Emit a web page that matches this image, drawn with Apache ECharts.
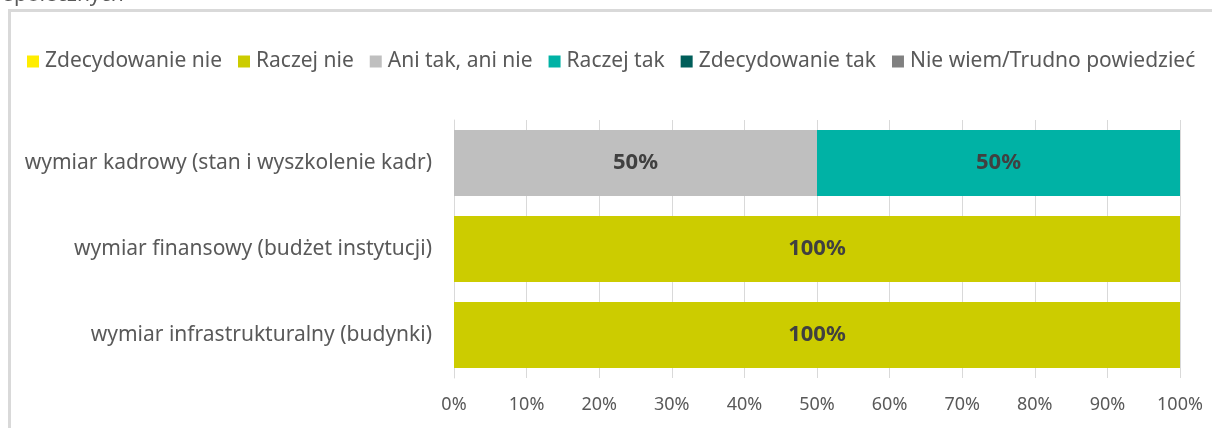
<!DOCTYPE html>
<html>
<head>
<meta charset="utf-8">
<script src="https://cdn.jsdelivr.net/npm/echarts@6/dist/echarts.min.js"></script>
<style>
    html, body { margin: 0; padding: 0; background: #fff; }
    #chart { width: 1212px; height: 428px; }
</style>
</head>
<body>
<div id="chart"></div>
<script>
const categories = [
    'wymiar kadrowy (stan i wyszkolenie kadr)',
    'wymiar finansowy (budżet instytucji)',
    'wymiar infrastrukturalny (budynki)'
]
const seriesNames = ['Zdecydowanie nie', 'Raczej nie', 'Ani tak, ani nie', 'Raczej tak', 'Zdecydowanie tak', 'Nie wiem/Trudno powiedzieć']
const seriesColors = ['#ffed00', '#cccc00', '#bfbfbf', '#00b2a5', '#005e5a', '#808080']
const zdecydowanieNie = [0, 0, 0]
const raczejNie = [0, 100, 100]
const aniTakAniNie = [50, 0, 0]
const raczejTak = [50, 0, 0]
const zdecydowanieTak = [0, 0, 0]
const nieWiem = [0, 0, 0]
const xTicks = [0, 10, 20, 30, 40, 50, 60, 70, 80, 90, 100]

const values = [zdecydowanieNie, raczejNie, aniTakAniNie, raczejTak, zdecydowanieTak, nieWiem]
const font = '"Noto Sans", sans-serif'

const chart = echarts.init(document.getElementById('chart'))

const option = {
    animation: false,
    textStyle: { fontFamily: font },
    graphic: [
        { type: 'rect', shape: { x: 8, y: 9, width: 1300, height: 3 }, style: { fill: '#d9d9d9' } },
        { type: 'rect', shape: { x: 8, y: 9, width: 3, height: 430 }, style: { fill: '#d9d9d9' } },
        // tytuł ucięty u góry
        { type: 'text', left: 4, top: -15, style: { text: 'społecznych', fill: '#595959', font: '21px ' + font } }
    ],
    legend: {
        left: 22,
        top: 46,
        width: 1600,
        itemWidth: 12,
        itemHeight: 12,
        itemGap: 16,
        icon: 'rect',
        textStyle: { color: '#595959', fontSize: 21, padding: [0, 0, 0, 1] },
        data: seriesNames
    },
    grid: {
        left: 454,
        right: 32,
        top: 120,
        bottom: 50
    },
    xAxis: {
        type: 'value',
        min: 0,
        max: 100,
        interval: 10,
        axisLine: { show: false },
        axisTick: { show: false },
        axisLabel: {
            color: '#595959',
            fontSize: 18,
            margin: 18,
            formatter: v => xTicks.includes(v) ? v + '%' : ''
        },
        splitLine: { lineStyle: { color: '#d9d9d9', width: 1 } }
    },
    yAxis: {
        type: 'category',
        inverse: true,
        data: categories,
        axisLine: { lineStyle: { color: '#d9d9d9' } },
        axisTick: { length: 7, lineStyle: { color: '#d9d9d9' } },
        axisLabel: { color: '#595959', fontSize: 21, margin: 22 }
    },
    series: seriesNames.map((name, i) => ({
        name: name,
        type: 'bar',
        stack: 'total',
        barCategoryGap: '23%',
        data: values[i],
        itemStyle: { color: seriesColors[i] },
        label: {
            show: true,
            color: '#404040',
            fontSize: 22,
            fontWeight: 'bold',
            formatter: p => p.value > 0 ? p.value + '%' : ''
        }
    }))
}

chart.setOption(option)
</script>
</body>
</html>
